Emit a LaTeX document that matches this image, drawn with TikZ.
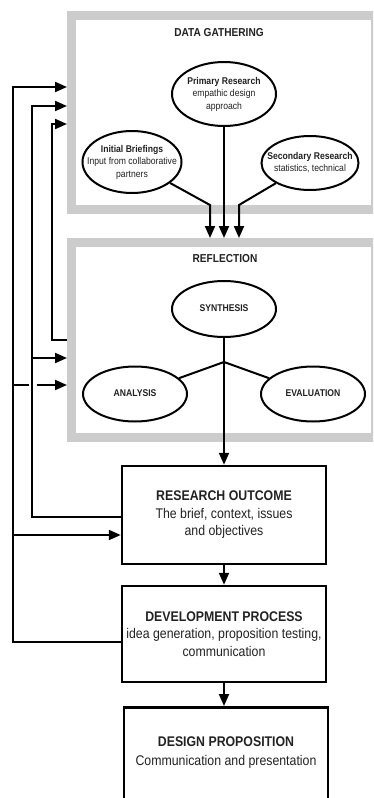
\documentclass[tikz,border=0pt]{standalone}
\usepackage{fontspec}
\setmainfont{Liberation Sans}[FakeStretch=0.88]
\usetikzlibrary{shapes.geometric,arrows.meta,calc}
\definecolor{framegray}{HTML}{CCCCCC}
\definecolor{ink}{HTML}{222222}
\newcommand\ztext[1]{\makebox[0pt]{\begin{tabular}{@{}c@{}}#1\end{tabular}}}
\begin{document}
\begin{tikzpicture}[x=1pt,y=-1pt,
  frame/.style={rectangle, draw=framegray, line width=9pt, fill=white, inner sep=0pt},
  ftitle/.style={text=ink, font=\fontsize{11.5}{14}\selectfont\bfseries, inner sep=0pt},
  ell/.style={ellipse, draw, line width=2pt, fill=white, inner sep=0pt, text=ink,
              font=\fontsize{9.8}{12.5}\selectfont},
  stage/.style={rectangle, draw, line width=2.5pt, inner sep=0pt, align=center, text=ink,
                font=\fontsize{14}{17.5}\selectfont},
  stagetext/.style={inner sep=0pt, align=center, text=ink, font=\fontsize{14}{19}\selectfont},
  conn/.style={line width=2pt},
  arr/.style={line width=2pt, -{Triangle[length=12pt,width=10pt]}}
]
\useasboundingbox (0,0) rectangle (373,798);
\clip (0,0) rectangle (373,798);

% frames
\node[frame, minimum width=304pt, minimum height=193.5pt] (dg) at (223.5,112.25) {};
\node[frame, minimum width=304pt, minimum height=194.5pt] (rf) at (223.5,339.75) {};
\node[ftitle] (dgt) at (219,33) {DATA GATHERING};
\node[ftitle] (rft) at (225,259) {REFLECTION};

% data gathering ellipses
\node[ell, minimum width=104pt, minimum height=64pt] (pr) at (224,94)
  {\ztext{\textbf{Primary Research}\\empathic design\\approach}};
\node[ell, minimum width=99pt, minimum height=62pt] (ib) at (132,162)
  {\ztext{\textbf{Initial Briefings}\\Input from collaborative\\partners}};
\node[ell, minimum width=97pt, minimum height=54pt] (sr) at (310,163)
  {\ztext{\textbf{Secondary Research}\\statistics, technical}};

% reflection ellipses
\node[ell, minimum width=104pt, minimum height=56pt] (syn) at (224,309) {\ztext{\textbf{SYNTHESIS}}};
\node[ell, minimum width=104pt, minimum height=55pt] (an) at (135,394) {\ztext{\textbf{ANALYSIS}}};
\node[ell, minimum width=104pt, minimum height=55pt] (ev) at (313,394) {\ztext{\textbf{EVALUATION}}};

% stage boxes
\node[stage, minimum width=204pt, minimum height=98pt] (ro) at (224,515)
  {\textbf{RESEARCH OUTCOME}\\The brief, context, issues\\and objectives};
\node[stage, minimum width=204pt, minimum height=96pt] (dp) at (224,634)
  {\textbf{DEVELOPMENT PROCESS}\\idea generation, proposition testing,\\communication};
\node[stage, minimum width=204pt, minimum height=120pt, anchor=north] (dsp) at (226,706) {};
\node[stagetext] (dspt) at (226,753) {\textbf{DESIGN PROPOSITION}\\Communication and presentation};

% data gathering -> reflection
\coordinate (k1) at (210,205);
\coordinate (k2) at (239,205);
\draw[arr] (ib) -- (k1) -- (k1 |- rf.north);
\draw[arr] (pr.south) -- (pr.south |- rf.north);
\draw[arr] (sr) -- (k2) -- (k2 |- rf.north);

% reflection inner
\coordinate (j) at (224,362);
\draw[conn] (syn.south) -- (j);
\draw[conn] (j) -- (an);
\draw[conn] (j) -- (ev);
\draw[arr] (j) -- (ro.north);

% stage chain
\draw[arr] (ro.south) -- (dp.north);
\draw[arr] (dp.south) -- (dp.south |- dsp.north);

% feedback: reflection -> data gathering
\coordinate (a1) at (52,340);
\coordinate (a2) at (52,124);
\draw[arr] (rf.west |- a1) -- (a1) -- (a2) -- (dg.west |- a2);

% feedback: research outcome -> data gathering, reflection
\coordinate (b1) at (32,517);
\coordinate (b2) at (32,106);
\coordinate (b3) at (32,358);
\draw[arr] (ro.west |- b1) -- (b1) -- (b2) -- (dg.west |- b2);
\draw[arr] (b3) -- (rf.west |- b3);

% feedback: development process -> data gathering, reflection, research outcome
\coordinate (c1) at (13,642);
\coordinate (c2) at (13,87);
\coordinate (c3) at (13,385);
\coordinate (c4) at (13,535);
\draw[arr] (dp.west |- c1) -- (c1) -- (c2) -- (dg.west |- c2);
\draw[conn] (c3) -- ($(c3 -| b1)+(-3.5,0)$);
\draw[arr] ($(c3 -| b1)+(4.5,0)$) -- (rf.west |- c3);
\draw[arr] (c4) -- (ro.west |- c4);
\end{tikzpicture}
\end{document}
